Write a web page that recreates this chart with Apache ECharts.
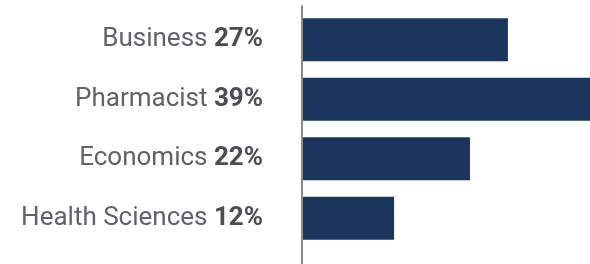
<!DOCTYPE html>
<html>
<head>
<meta charset="utf-8">
<script src="https://cdn.jsdelivr.net/npm/echarts@6/dist/echarts.min.js"></script>
<style>
html, body { margin: 0; padding: 0; background: #fff; }
#main { width: 590px; height: 264px; }
</style>
</head>
<body>
<div id="main"></div>
<script>
var categories = ['Business', 'Pharmacist', 'Economics', 'Health Sciences'];
var shares = [27, 39, 22, 12];

var myChart = echarts.init(document.getElementById('main'));
option = {
    animation: false,
    grid: [
        { left: 303, width: 296, top: 10, height: 238, outerBoundsMode: 'none', containLabel: false },
        { left: 302, width: 10, top: 6, bottom: -10, outerBoundsMode: 'none', containLabel: false }
    ],
    xAxis: [
        { type: 'value', min: 0, max: 39, show: false },
        { type: 'value', gridIndex: 1, show: false }
    ],
    yAxis: [
        {
            type: 'category',
            data: categories,
            inverse: true,
            axisLine: { show: false },
            axisTick: { show: false },
            axisLabel: {
                margin: 40,
                fontFamily: 'Roboto',
                formatter: function (name, i) {
                    return '{n|' + name + ' }{b|' + shares[i] + '%}';
                },
                rich: {
                    n: { fontFamily: 'Roboto', fontSize: 26, color: '#5f6368' },
                    b: { fontFamily: 'Roboto', fontSize: 26, fontWeight: 'bold', color: '#4a4d52' }
                }
            }
        },
        {
            type: 'value',
            gridIndex: 1,
            axisLine: { show: true, lineStyle: { color: '#8a8a8a', width: 2 } },
            axisTick: { show: false },
            axisLabel: { show: false },
            splitLine: { show: false }
        }
    ],
    series: [
        {
            type: 'bar',
            data: shares,
            barWidth: 43,
            itemStyle: { color: '#1b365d' }
        }
    ]
};
myChart.setOption(option);
</script>
</body>
</html>
